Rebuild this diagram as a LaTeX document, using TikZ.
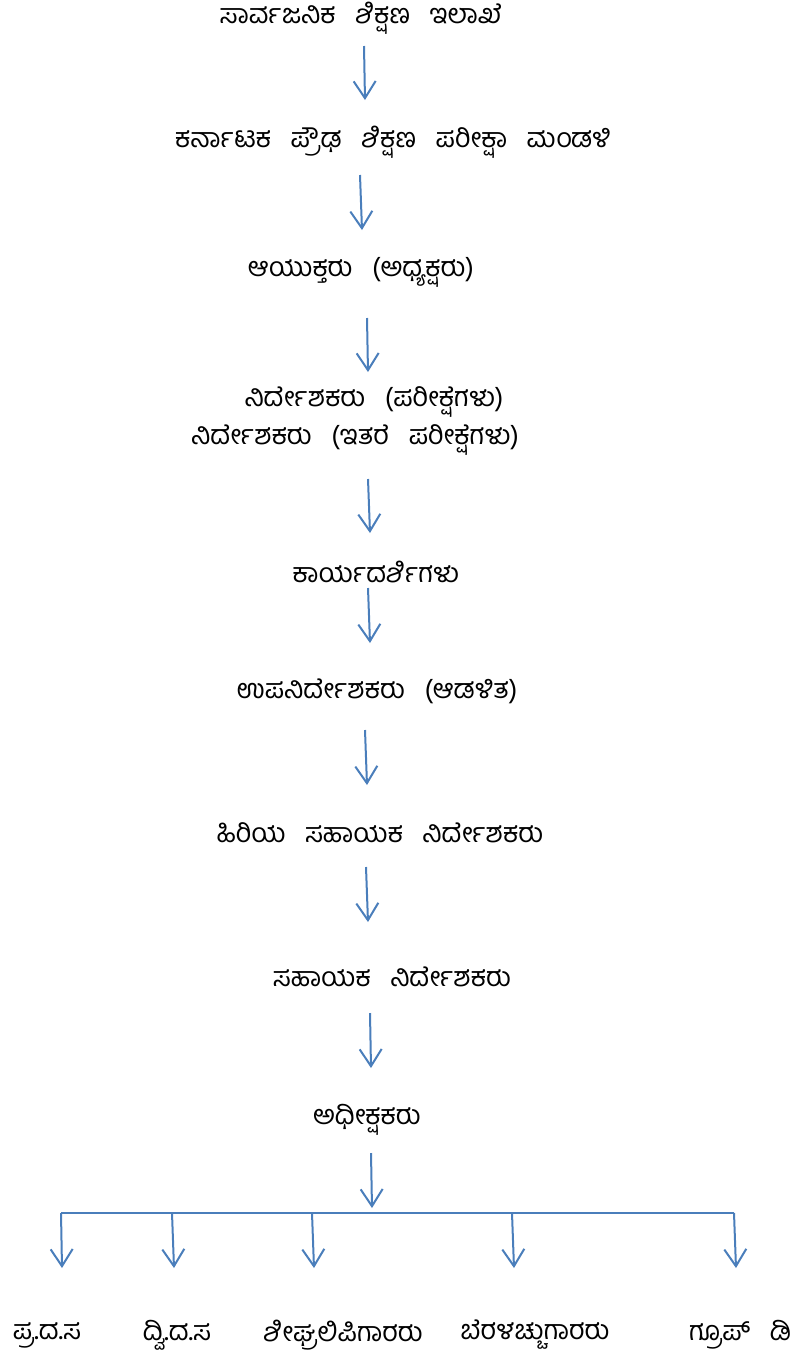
\documentclass[tikz,border=0pt]{standalone}
\usepackage{fontspec}
\newfontfamily\kn[Script=Kannada]{Hind Mysuru}
\usetikzlibrary{arrows.meta}
\definecolor{arrowblue}{HTML}{4A7EBB}
\newcommand{\knfont}{\kn\fontsize{27}{31}\selectfont\spaceskip=0.72em\relax}
\begin{document}
\begin{tikzpicture}[x=1pt,y=-1pt,
  lbl/.style={inner sep=0pt,font=\knfont,text=black},
  conn/.style={draw=arrowblue,line width=2pt,-{Straight Barb[length=17pt,width=22pt,line width=2pt]}},
  bus/.style={draw=arrowblue,line width=2pt}]
\useasboundingbox (0,0) rectangle (795,1361);
% labels
\node[lbl] (n1) at (361,18) {ಸಾರ್ವಜನಿಕ ಶಿಕ್ಷಣ ಇಲಾಖೆ};
\node[lbl] (n2) at (393,142) {ಕರ್ನಾಟಕ ಪ್ರೌಢ ಶಿಕ್ಷಣ ಪರೀಕ್ಷಾ ಮಂಡಳಿ};
\node[lbl] (n3) at (361,272) {ಆಯುಕ್ತರು (ಅಧ್ಯಕ್ಷರು)};
\node[lbl] (n4a) at (374,402) {ನಿರ್ದೇಶಕರು (ಪರೀಕ್ಷೆಗಳು)};
\node[lbl] (n4b) at (355,440) {ನಿರ್ದೇಶಕರು (ಇತರೆ ಪರೀಕ್ಷೆಗಳು)};
\node[lbl] (n5) at (376,572) {ಕಾರ್ಯದರ್ಶಿಗಳು};
\node[lbl] (n6) at (377,691) {ಉಪನಿರ್ದೇಶಕರು (ಆಡಳಿತ)};
\node[lbl] (n7) at (380,833) {ಹಿರಿಯ ಸಹಾಯಕ ನಿರ್ದೇಶಕರು};
\node[lbl] (n8) at (392,977) {ಸಹಾಯಕ ನಿರ್ದೇಶಕರು};
\node[lbl] (n9) at (367,1120) {ಅಧೀಕ್ಷಕರು};
\node[lbl] (b1) at (47,1335) {ಪ್ರ.ದ.ಸ};
\node[lbl] (b2) at (177,1335) {ದ್ವಿ.ದ.ಸ};
\node[lbl] (b3) at (343,1335) {ಶೀಘ್ರಲಿಪಿಗಾರರು};
\node[lbl] (b4) at (535,1335) {ಬೆರಳಚ್ಚುಗಾರರು};
\node[lbl] (b5) at (740,1335) {ಗ್ರೂಪ್ ಡಿ};
% arrow end points
\coordinate (t1) at (364,46);   \coordinate (h1) at (365,100);
\coordinate (t2) at (360,175);  \coordinate (h2) at (362,230);
\coordinate (t3) at (367,318);  \coordinate (h3) at (368,372);
\coordinate (t4) at (368,479);  \coordinate (h4) at (370,533);
\coordinate (t5) at (368,588);  \coordinate (h5) at (370,643);
\coordinate (t6) at (365,730);  \coordinate (h6) at (367,785);
\coordinate (t7) at (366,867);  \coordinate (h7) at (368,922);
\coordinate (t8) at (370,1013); \coordinate (h8) at (371,1068);
\coordinate (t9) at (371,1153); \coordinate (h9) at (372,1208);
\coordinate (busL) at (61,1213); \coordinate (busR) at (734,1213);
\coordinate (s1) at (61,1213);  \coordinate (e1) at (62,1268);
\coordinate (s2) at (172,1213); \coordinate (e2) at (174,1268);
\coordinate (s3) at (312,1213); \coordinate (e3) at (314,1268);
\coordinate (s4) at (512,1213); \coordinate (e4) at (514,1268);
\coordinate (s5) at (734,1213); \coordinate (e5) at (736,1268);
% connectors
\foreach \i in {1,...,9} {\draw[conn] (t\i) -- (h\i);}
\draw[bus] (busL) -- (busR);
\foreach \i in {1,...,5} {\draw[conn] (s\i) -- (e\i);}
\end{tikzpicture}
\end{document}
